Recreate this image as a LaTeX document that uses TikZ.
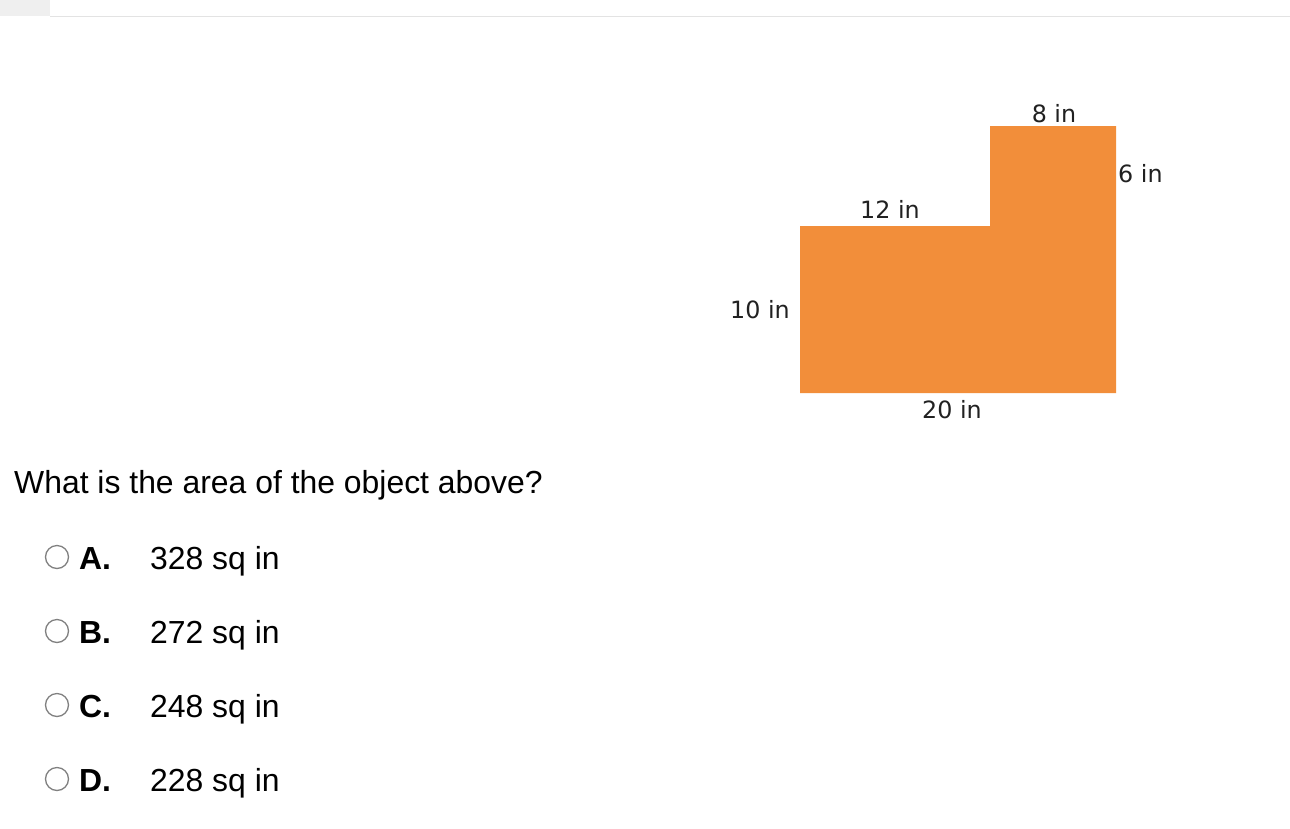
\documentclass[tikz,border=0pt]{standalone}
\usepackage{fontspec}
\setmainfont{Liberation Sans}
\newfontfamily\dimfont{DejaVu Sans}

\definecolor{shapeorange}{RGB}{242,142,58}
\definecolor{barline}{RGB}{227,227,227}
\definecolor{bargray}{RGB}{239,239,239}
\definecolor{radiogray}{RGB}{128,128,128}

\begin{document}
\begin{tikzpicture}[x=1pt,y=-1pt,
    dimlabel/.style={font=\dimfont\fontsize{23.8}{28}\selectfont, text=black!87, inner sep=0pt},
    question/.style={font=\fontsize{31.9}{36}\selectfont, inner sep=0pt, anchor=base west},
    optletter/.style={font=\bfseries\fontsize{31.9}{36}\selectfont, inner sep=0pt, anchor=base west},
    optvalue/.style={font=\fontsize{31.9}{36}\selectfont, inner sep=0pt, anchor=base west},
    radiobtn/.style={circle, draw=radiogray, line width=1.3pt, minimum size=23pt, inner sep=0pt}]
        \useasboundingbox (0,0) rectangle (1290,828);

        % Ust cubuk
        \fill[bargray] (0,0) rectangle (50,16);
        \draw[barline, line width=1.5pt] (50,16.5) -- (1290,16.5);

        % Sekli ciz
        \fill[shapeorange] (800,393) -- (800,226) -- (990,226) -- (990,126)
            -- (1116,126) -- (1116,393) -- cycle;

        % Olculer
        \node[dimlabel, anchor=base] (top) at (1054,122) {8 in};
        \node[dimlabel, anchor=base west] (right) at (1118,182) {6 in};
        \node[dimlabel, anchor=base] (step) at (890,218) {12 in};
        \node[dimlabel, anchor=base] (left) at (760,318) {10 in};
        \node[dimlabel, anchor=base] (bottom) at (952,418) {20 in};

        % Soru
        \node[question] (q) at (14,493) {What is the area of the object above?};

        % Secenekler
        \node[radiobtn] (ra) at (57,557) {};
        \node[optletter] (la) at (79,569) {A.};
        \node[optvalue] (va) at (150,569) {328 sq in};

        \node[radiobtn] (rb) at (57,631) {};
        \node[optletter] (lb) at (79,643) {B.};
        \node[optvalue] (vb) at (150,643) {272 sq in};

        \node[radiobtn] (rc) at (57,705) {};
        \node[optletter] (lc) at (79,717) {C.};
        \node[optvalue] (vc) at (150,717) {248 sq in};

        \node[radiobtn] (rd) at (57,779) {};
        \node[optletter] (ld) at (79,791) {D.};
        \node[optvalue] (vd) at (150,791) {228 sq in};
    \end{tikzpicture}
\end{document}
